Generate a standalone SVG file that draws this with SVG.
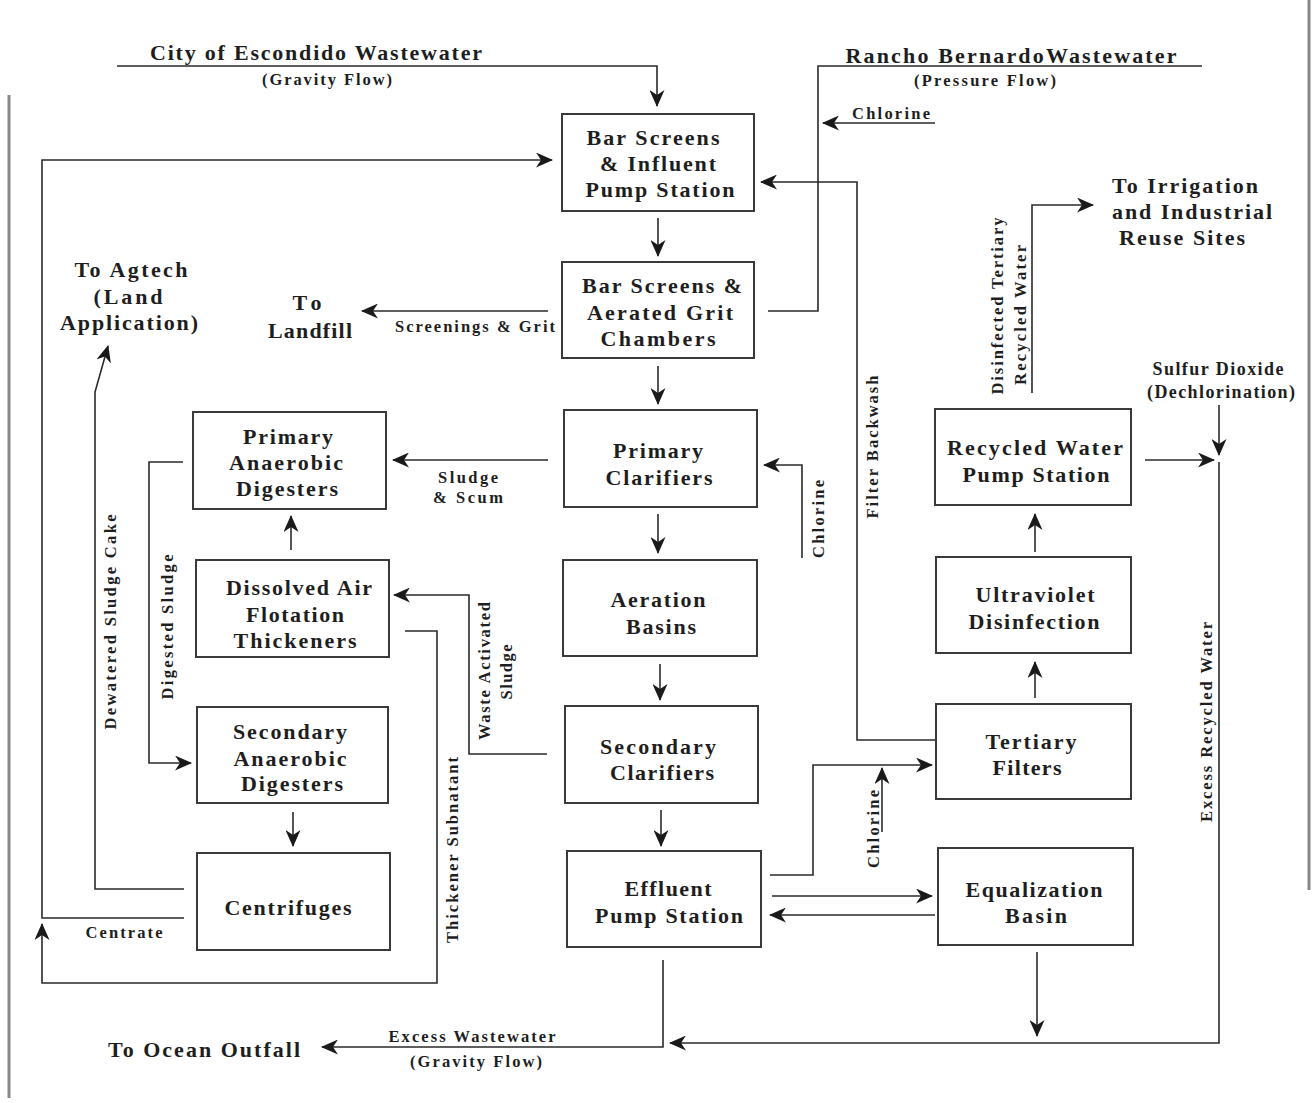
<svg xmlns="http://www.w3.org/2000/svg" width="1315" height="1103" viewBox="0 0 1315 1103">
<style>
.bg{fill:#fff}
.box{fill:none;stroke:#3a3a3a;stroke-width:2}
.ln{fill:none;stroke:#2a2a2a;stroke-width:1.6}
.t{font-family:"Liberation Serif","Times New Roman",serif;font-weight:bold;fill:#1e1e1e;text-anchor:middle;dominant-baseline:central}
.b{font-size:22px}
.s{font-size:16.5px}
.m{font-size:18px}
.edge{stroke:#888;stroke-width:3;fill:none}
</style>
<defs>
<marker id="ah" markerUnits="userSpaceOnUse" markerWidth="17" markerHeight="15" viewBox="0 0 17 15" refX="16" refY="7.5" orient="auto">
<path d="M0,0 L17,7.5 L0,15 L5,7.5 z" fill="#1a1a1a"/>
</marker>
</defs>
<rect class="bg" width="1315" height="1103"/>
<g id="scan-edges">
<line class="edge" x1="9" y1="95" x2="9" y2="1098"/>
<line class="edge" x1="1309" y1="0" x2="1309" y2="890"/>
</g>

<g id="connectors">
<path class="ln" d="M117,66 H657 V106" marker-end="url(#ah)"/>
<path class="ln" d="M768,311 H818 V66 H1202"/>
<path class="ln" d="M935,123 H823" marker-end="url(#ah)"/>
<path class="ln" d="M936,740 H857 V182 H761" marker-end="url(#ah)"/>
<path class="ln" d="M658,218 V256" marker-end="url(#ah)"/>
<path class="ln" d="M658,366 V404" marker-end="url(#ah)"/>
<path class="ln" d="M658,514 V553" marker-end="url(#ah)"/>
<path class="ln" d="M660,664 V700" marker-end="url(#ah)"/>
<path class="ln" d="M661,810 V846" marker-end="url(#ah)"/>
<path class="ln" d="M548,311 H362" marker-end="url(#ah)"/>
<path class="ln" d="M405,631 H437 V983 H42 V924" marker-end="url(#ah)"/>
<path class="ln" d="M184,918 H42 V160 H552" marker-end="url(#ah)"/>
<path class="ln" d="M184,889 H95 V392 L108,346" marker-end="url(#ah)"/>
<path class="ln" d="M183,462 H149 V763 H191" marker-end="url(#ah)"/>
<path class="ln" d="M291,550 V516" marker-end="url(#ah)"/>
<path class="ln" d="M293,812 V846" marker-end="url(#ah)"/>
<path class="ln" d="M548,460 H393" marker-end="url(#ah)"/>
<path class="ln" d="M547,754 H469 V595 H394" marker-end="url(#ah)"/>
<path class="ln" d="M802,558 V465 H764" marker-end="url(#ah)"/>
<path class="ln" d="M770,875 H813 V765 H932" marker-end="url(#ah)"/>
<path class="ln" d="M882,832 V768" marker-end="url(#ah)"/>
<path class="ln" d="M772,896 H932" marker-end="url(#ah)"/>
<path class="ln" d="M935,915 H770" marker-end="url(#ah)"/>
<path class="ln" d="M1037,952 V1036" marker-end="url(#ah)"/>
<path class="ln" d="M1145,460 H1214" marker-end="url(#ah)"/>
<path class="ln" d="M1219,405 V455" marker-end="url(#ah)"/>
<path class="ln" d="M1219,462 V1043 H670" marker-end="url(#ah)"/>
<path class="ln" d="M663,960 V1047 H322" marker-end="url(#ah)"/>
<path class="ln" d="M1032,393 V205 H1093" marker-end="url(#ah)"/>
<path class="ln" d="M1035,552 V514" marker-end="url(#ah)"/>
<path class="ln" d="M1035,698 V662" marker-end="url(#ah)"/>
</g>

<g id="n-bar-screens-influent">
<rect class="box" x="562" y="114" width="192" height="97"/>
<text class="t b" x="653" y="137" textLength="133" lengthAdjust="spacing">Bar Screens</text>
<text class="t b" x="658" y="163" textLength="116" lengthAdjust="spacing">&amp; Influent</text>
<text class="t b" x="660" y="189" textLength="149" lengthAdjust="spacing">Pump Station</text>
</g>
<g id="n-bar-screens-grit">
<rect class="box" x="562" y="262" width="192" height="96"/>
<text class="t b" x="662" y="285" textLength="160" lengthAdjust="spacing">Bar Screens &amp;</text>
<text class="t b" x="660" y="312" textLength="146" lengthAdjust="spacing">Aerated Grit</text>
<text class="t b" x="658" y="338" textLength="115" lengthAdjust="spacing">Chambers</text>
</g>
<g id="n-primary-clarifiers">
<rect class="box" x="564" y="410" width="193" height="97"/>
<text class="t b" x="658" y="450" textLength="90" lengthAdjust="spacing">Primary</text>
<text class="t b" x="659" y="477" textLength="107" lengthAdjust="spacing">Clarifiers</text>
</g>
<g id="n-aeration-basins">
<rect class="box" x="563" y="560" width="194" height="96"/>
<text class="t b" x="658" y="599" textLength="95" lengthAdjust="spacing">Aeration</text>
<text class="t b" x="661" y="626" textLength="70" lengthAdjust="spacing">Basins</text>
</g>
<g id="n-secondary-clarifiers">
<rect class="box" x="565" y="706" width="193" height="97"/>
<text class="t b" x="658" y="746" textLength="116" lengthAdjust="spacing">Secondary</text>
<text class="t b" x="662" y="772" textLength="104" lengthAdjust="spacing">Clarifiers</text>
</g>
<g id="n-effluent-pump">
<rect class="box" x="567" y="851" width="194" height="96"/>
<text class="t b" x="668" y="888" textLength="87" lengthAdjust="spacing">Effluent</text>
<text class="t b" x="669" y="915" textLength="148" lengthAdjust="spacing">Pump Station</text>
</g>
<g id="n-primary-anaerobic">
<rect class="box" x="193" y="412" width="193" height="97"/>
<text class="t b" x="288" y="436" textLength="90" lengthAdjust="spacing">Primary</text>
<text class="t b" x="286" y="462" textLength="114" lengthAdjust="spacing">Anaerobic</text>
<text class="t b" x="287" y="488" textLength="102" lengthAdjust="spacing">Digesters</text>
</g>
<g id="n-daf-thickeners">
<rect class="box" x="196" y="560" width="193" height="97"/>
<text class="t b" x="299" y="587" textLength="146" lengthAdjust="spacing">Dissolved Air</text>
<text class="t b" x="295" y="614" textLength="98" lengthAdjust="spacing">Flotation</text>
<text class="t b" x="295" y="640" textLength="123" lengthAdjust="spacing">Thickeners</text>
</g>
<g id="n-secondary-anaerobic">
<rect class="box" x="197" y="707" width="191" height="96"/>
<text class="t b" x="290" y="731" textLength="114" lengthAdjust="spacing">Secondary</text>
<text class="t b" x="290" y="758" textLength="113" lengthAdjust="spacing">Anaerobic</text>
<text class="t b" x="292" y="783" textLength="102" lengthAdjust="spacing">Digesters</text>
</g>
<g id="n-centrifuges">
<rect class="box" x="197" y="853" width="193" height="97"/>
<text class="t b" x="288" y="907" textLength="127" lengthAdjust="spacing">Centrifuges</text>
</g>
<g id="n-recycled-water-pump">
<rect class="box" x="935" y="409" width="196" height="96"/>
<text class="t b" x="1035" y="447" textLength="176" lengthAdjust="spacing">Recycled Water</text>
<text class="t b" x="1036" y="474" textLength="147" lengthAdjust="spacing">Pump Station</text>
</g>
<g id="n-uv-disinfection">
<rect class="box" x="936" y="557" width="195" height="96"/>
<text class="t b" x="1035" y="594" textLength="119" lengthAdjust="spacing">Ultraviolet</text>
<text class="t b" x="1034" y="621" textLength="131" lengthAdjust="spacing">Disinfection</text>
</g>
<g id="n-tertiary-filters">
<rect class="box" x="936" y="704" width="195" height="95"/>
<text class="t b" x="1031" y="741" textLength="91" lengthAdjust="spacing">Tertiary</text>
<text class="t b" x="1027" y="767" textLength="69" lengthAdjust="spacing">Filters</text>
</g>
<g id="n-equalization-basin">
<rect class="box" x="938" y="848" width="195" height="97"/>
<text class="t b" x="1034" y="889" textLength="137" lengthAdjust="spacing">Equalization</text>
<text class="t b" x="1036" y="915" textLength="62" lengthAdjust="spacing">Basin</text>
</g>

<g id="n-escondido">
<text class="t b" x="316" y="52" textLength="332" lengthAdjust="spacing">City of Escondido Wastewater</text>
<text class="t s" x="327" y="79" textLength="130" lengthAdjust="spacing">(Gravity Flow)</text>
</g>
<g id="n-rancho">
<text class="t b" x="1011" y="55" textLength="331" lengthAdjust="spacing">Rancho BernardoWastewater</text>
<text class="t s" x="985" y="80" textLength="142" lengthAdjust="spacing">(Pressure Flow)</text>
</g>
<g id="n-irrigation">
<text class="t b" x="1185" y="185" textLength="146" lengthAdjust="spacing">To Irrigation</text>
<text class="t b" x="1192" y="211" textLength="160" lengthAdjust="spacing">and Industrial</text>
<text class="t b" x="1182" y="237" textLength="126" lengthAdjust="spacing">Reuse Sites</text>
</g>
<g id="n-agtech">
<text class="t b" x="131" y="269" textLength="113" lengthAdjust="spacing">To Agtech</text>
<text class="t b" x="128" y="296" textLength="69" lengthAdjust="spacing">(Land</text>
<text class="t b" x="129" y="322" textLength="138" lengthAdjust="spacing">Application)</text>
</g>
<g id="n-landfill">
<text class="t b" x="307" y="302" textLength="29" lengthAdjust="spacing">To</text>
<text class="t b" x="310" y="330" textLength="84" lengthAdjust="spacing">Landfill</text>
</g>
<g id="n-ocean">
<text class="t b" x="204" y="1049" textLength="192" lengthAdjust="spacing">To Ocean Outfall</text>
</g>
<g id="n-sulfur">
<text class="t m" x="1218" y="369" textLength="131" lengthAdjust="spacing">Sulfur Dioxide</text>
<text class="t m" x="1221" y="392" textLength="148" lengthAdjust="spacing">(Dechlorination)</text>
</g>

<g id="labels">
<text class="t s" x="891" y="113" textLength="78" lengthAdjust="spacing">Chlorine</text>
<text class="t s" x="475" y="326" textLength="160" lengthAdjust="spacing">Screenings &amp; Grit</text>
<text class="t s" x="468" y="477" textLength="60" lengthAdjust="spacing">Sludge</text>
<text class="t s" x="468" y="497" textLength="70" lengthAdjust="spacing">&amp; Scum</text>
<text class="t s" x="124" y="932" textLength="77" lengthAdjust="spacing">Centrate</text>
<text class="t s" x="472" y="1036" textLength="167" lengthAdjust="spacing">Excess Wastewater</text>
<text class="t s" x="476" y="1061" textLength="132" lengthAdjust="spacing">(Gravity Flow)</text>
<text class="t s" transform="translate(110,622) rotate(-90)" textLength="215" lengthAdjust="spacing">Dewatered Sludge Cake</text>
<text class="t s" transform="translate(167,627) rotate(-90)" textLength="145" lengthAdjust="spacing">Digested  Sludge</text>
<text class="t s" transform="translate(484,671) rotate(-90)" textLength="138" lengthAdjust="spacing">Waste Activated</text>
<text class="t s" transform="translate(506,672) rotate(-90)" textLength="55" lengthAdjust="spacing">Sludge</text>
<text class="t s" transform="translate(452,850) rotate(-90)" textLength="186" lengthAdjust="spacing">Thickener Subnatant</text>
<text class="t s" transform="translate(818,519) rotate(-90)" textLength="78" lengthAdjust="spacing">Chlorine</text>
<text class="t s" transform="translate(872,447) rotate(-90)" textLength="143" lengthAdjust="spacing">Filter Backwash</text>
<text class="t s" transform="translate(997,306) rotate(-90)" textLength="177" lengthAdjust="spacing">Disinfected Tertiary</text>
<text class="t s" transform="translate(1020,315) rotate(-90)" textLength="140" lengthAdjust="spacing">Recycled Water</text>
<text class="t s" transform="translate(873,829) rotate(-90)" textLength="78" lengthAdjust="spacing">Chlorine</text>
<text class="t s" transform="translate(1206,722) rotate(-90)" textLength="200" lengthAdjust="spacing">Excess Recycled Water</text>
</g>
</svg>
